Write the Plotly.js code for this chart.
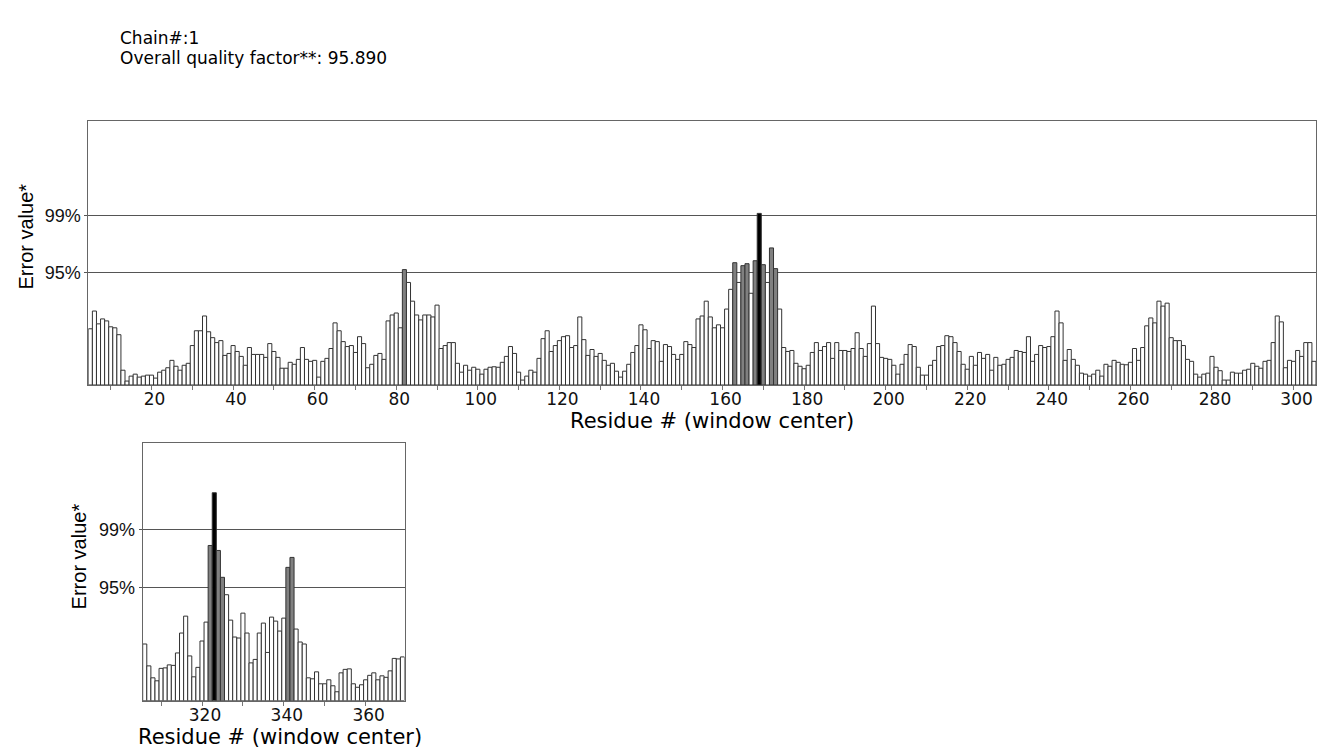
<!DOCTYPE html>
<html>
<head>
<meta charset="utf-8">
<script src="https://cdn.plot.ly/plotly-3.0.1.min.js"></script>
<style>
html, body { margin: 0; padding: 0; background: #ffffff; }
#chart { width: 1319px; height: 748px; }
</style>
</head>
<body>
<div id="chart"></div>
<script>
// ---------------- data ----------------
const chainLabel = "Chain#:1";
const qualityLabel = "Overall quality factor**: 95.890";
const yAxisTitle = "Error value*";
const xAxisTitle = "Residue # (window center)";

const thresholdValues = [11.38, 17.19];
const thresholdLabels = ["95%", "99%"];

const topFirstResidue = 5;
const topErrorValues = [
  5.7, 7.5, 6.2, 6.7, 6.5, 5.9, 5.8, 5.1, 1.5, 0.4, 0.9, 1.1, 0.8, 0.9, 1.0,
  1.0, 0.7, 1.3, 1.5, 1.75, 2.5, 1.9, 1.5, 2.0, 2.2, 4.0, 5.5, 5.5, 7.0, 5.4, 4.8, 4.3, 4.5, 3.0, 3.2, 4.0, 3.4, 2.9,
  2.0, 3.8, 3.1, 3.1, 3.1, 2.8, 4.2, 3.4, 2.8, 1.7, 1.7, 2.3, 2.1, 2.6, 3.8, 2.6, 2.4, 2.5, 0.8, 2.4,
  2.7, 3.7, 6.3, 5.5, 4.4, 3.9, 4.0, 3.3, 4.9, 4.2, 1.75, 2.1, 3.0, 3.2, 2.6, 6.5, 7.1, 7.3, 5.8, 11.7,
  10.4, 8.5, 7.1, 6.6, 7.1, 7.1, 6.9, 8.1, 3.7, 4.0, 4.3, 4.3, 2.2, 1.3, 2.0, 1.5, 1.8, 1.6, 1.1, 1.6,
  1.8, 1.85, 1.8, 2.3, 2.9, 3.9, 3.2, 1.3, 0.5, 0.9, 1.5, 1.3, 2.7, 4.7, 5.5, 3.4, 4.0, 4.5, 4.9, 5.0,
  3.8, 4.0, 6.9, 4.6, 3.0, 3.6, 2.9, 3.2, 2.5, 2.0, 2.2, 1.4, 0.8, 1.4, 2.1, 3.3, 4.0, 6.1, 5.6, 3.7,
  4.5, 4.4, 2.4, 4.1, 3.9, 3.1, 2.6, 3.1, 4.4, 4.1, 3.8, 6.7, 7.0, 8.5, 6.9, 5.8, 6.1, 5.8, 7.7, 9.7,
  12.4, 10.4, 12.1, 12.3, 9.3, 12.6, 17.4, 12.2, 10.4, 13.9, 11.8, 7.7,
  3.8, 3.4, 3.5, 2.2, 1.9, 1.65, 2.0, 3.3, 4.3, 3.5, 3.9, 4.3, 2.7, 4.3, 3.5, 3.5, 3.4, 3.7, 5.3,
  3.7, 2.9, 4.2, 8.0, 4.2, 2.8, 2.7, 2.6, 2.0, 1.1, 2.1, 3.1, 4.1, 3.9, 1.8, 1.0, 1.0, 2.0, 2.5, 3.9,
  4.0, 5.0, 4.9, 4.3, 3.4, 2.1, 1.6, 2.9, 2.0, 3.3, 2.7, 3.1, 1.5, 2.8, 2.0, 2.1, 2.6, 2.8, 3.5, 3.4,
  3.3, 4.9, 2.4, 3.1, 4.0, 3.8, 3.9, 4.9, 7.5, 6.3, 2.5, 3.6, 2.6, 2.0, 1.2, 1.1, 0.9, 1.1, 1.5, 0.9,
  2.1, 1.9, 2.5, 2.3, 2.1, 2.05, 2.3, 3.7, 2.5, 3.8, 6.0, 6.8, 6.3, 8.5, 8.0, 8.3, 4.8, 4.5, 4.5, 4.0,
  2.6, 2.4, 1.1, 0.8, 1.1, 1.2, 2.9, 1.8, 1.45, 0.5, 0.5, 1.3, 1.2, 1.2, 1.5, 1.6,
  2.2, 1.9, 1.7, 2.4, 2.5, 4.3, 7.0, 6.4, 1.75, 2.5, 2.4, 3.5, 2.9, 4.3, 4.3, 2.4
];
const topTickVals = [20, 40, 60, 80, 100, 120, 140, 160, 180, 200, 220, 240, 260, 280, 300];

const bottomFirstResidue = 306;
const bottomErrorValues = [
  5.7, 3.5, 2.3, 2.0, 3.25, 3.3, 3.6, 3.55, 4.8, 6.8, 8.5, 4.5, 2.4, 3.35, 6.0, 7.9,
  15.6, 20.9, 15.1, 12.4, 10.65, 8.1, 6.4, 6.3, 8.8, 6.8, 3.8, 4.15, 6.8, 7.8, 4.85, 8.4,
  8.0, 7.0, 8.3, 13.4, 14.4, 7.2, 5.9, 5.7, 2.3, 2.2, 2.9, 1.7, 1.7, 2.1, 1.5, 0.9,
  2.8, 3.15, 3.2, 1.7, 1.35, 1.6, 2.1, 2.55, 2.8, 2.1, 2.5, 2.35, 3.0, 4.25, 4.2, 4.4
];
const bottomTickVals = [320, 340, 360];

// ---------------- helpers ----------------
function residueNumbers(first, values) {
  return values.map((_, i) => first + i);
}
function barColors(values) {
  return values.map(v => v >= thresholdValues[1] ? "#000000" : (v >= thresholdValues[0] ? "#808080" : "#ffffff"));
}

const W = 1319, H = 748;
const px = x => x / W;
const py = y => 1 - y / H;

const topX = residueNumbers(topFirstResidue, topErrorValues);
const botX = residueNumbers(bottomFirstResidue, bottomErrorValues);

const barLine = { color: "#333333", width: 1 };

const traces = [
  {
    type: "bar", x: topX, y: topErrorValues, xaxis: "x", yaxis: "y",
    marker: { color: barColors(topErrorValues), line: barLine },
    width: 1, hoverinfo: "x+y"
  },
  {
    type: "bar", x: botX, y: bottomErrorValues, xaxis: "x2", yaxis: "y2",
    marker: { color: barColors(bottomErrorValues), line: barLine },
    width: 1, hoverinfo: "x+y"
  }
];

const xCommon = {
  ticks: "outside", ticklen: 4, tickcolor: "#777777", tickwidth: 1,
  minor: { dtick: 10, tick0: 0, ticks: "outside", ticklen: 4, tickcolor: "#777777", showgrid: false },
  showline: true, mirror: true, linecolor: "#666666", linewidth: 1,
  showgrid: false, zeroline: false,
  tickfont: { family: "DejaVu Sans", size: 17, color: "#111111" },
  ticklabelshift: 3,
  ticklabelstandoff: -5
};
const yCommon = {
  tickvals: thresholdValues, ticktext: thresholdLabels,
  ticks: "outside", ticklen: 3, tickcolor: "#555555",
  showgrid: true, gridcolor: "#555555", gridwidth: 1,
  showline: true, mirror: true, linecolor: "#666666", linewidth: 1,
  zeroline: false,
  tickfont: { family: "Liberation Sans", size: 18, color: "#111111" }
};

const layout = {
  width: W, height: H,
  margin: { l: 0, r: 0, t: 0, b: 0 },
  paper_bgcolor: "#ffffff", plot_bgcolor: "#ffffff",
  showlegend: false, bargap: 0,
  xaxis: Object.assign({}, xCommon, {
    domain: [px(88.3), px(1316)], range: [4.5, 305.5], anchor: "y", tickvals: topTickVals
  }),
  yaxis: Object.assign({}, yCommon, {
    domain: [py(385), py(120.7)], range: [0, 26.8], anchor: "x"
  }),
  xaxis2: Object.assign({}, xCommon, {
    domain: [px(142.7), px(404.5)], range: [305.5, 369.5], anchor: "y2", tickvals: bottomTickVals
  }),
  yaxis2: Object.assign({}, yCommon, {
    domain: [py(700.7), py(443)], range: [0, 25.9], anchor: "x2"
  }),
  annotations: [
    { text: chainLabel, xref: "paper", yref: "paper", x: px(118), y: py(37.5), xanchor: "left", yanchor: "middle",
      showarrow: false, font: { family: "DejaVu Sans", size: 17, color: "#000000" } },
    { text: qualityLabel, xref: "paper", yref: "paper", x: px(118), y: py(57.5), xanchor: "left", yanchor: "middle",
      showarrow: false, font: { family: "DejaVu Sans", size: 17, color: "#000000" } },
    { text: yAxisTitle, xref: "paper", yref: "paper", x: px(25), y: py(236.5), xanchor: "center", yanchor: "middle",
      textangle: -90, showarrow: false, font: { family: "Liberation Sans", size: 20, color: "#000000" } },
    { text: yAxisTitle, xref: "paper", yref: "paper", x: px(79.4), y: py(556), xanchor: "center", yanchor: "middle",
      textangle: -90, showarrow: false, font: { family: "Liberation Sans", size: 20, color: "#000000" } },
    { text: xAxisTitle, xref: "paper", yref: "paper", x: px(711.7), y: py(421), xanchor: "center", yanchor: "middle",
      showarrow: false, font: { family: "DejaVu Sans", size: 21, color: "#000000" } },
    { text: xAxisTitle, xref: "paper", yref: "paper", x: px(280), y: py(737), xanchor: "center", yanchor: "middle",
      showarrow: false, font: { family: "DejaVu Sans", size: 21, color: "#000000" } }
  ]
};

Plotly.newPlot("chart", traces, layout, { staticPlot: true, displayModeBar: false });
</script>
</body>
</html>
